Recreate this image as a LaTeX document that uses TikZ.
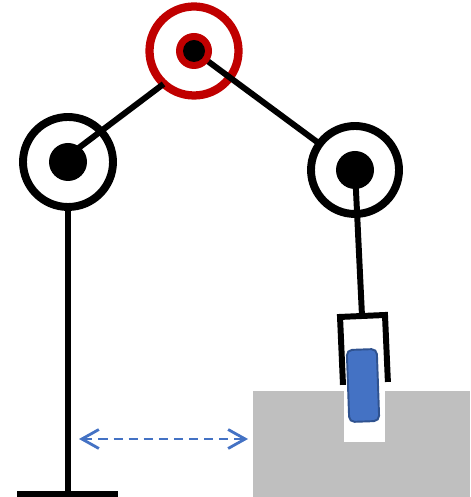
\documentclass[tikz,border=0pt]{standalone}
\usepackage{tikz}
\usetikzlibrary{arrows.meta,positioning}
\definecolor{jointred}{HTML}{C00000}
\definecolor{partblue}{HTML}{4472C4}
\definecolor{partedge}{HTML}{2F528F}
\definecolor{tablegray}{HTML}{BFBFBF}
\tikzset{
    arm/.style={line cap=butt, line join=miter},
    joint/.style={circle, draw, line width=4.5pt, fill=white,
                     minimum size=1.8cm, inner sep=0pt},
    hub/.style={circle, fill=black, minimum size=0.76cm, inner sep=0pt},
    link/.style={line width=3.4pt},
    part/.style={rectangle, rounded corners=3pt, draw=partedge, fill=partblue,
                     line width=1.1pt, minimum width=0.6cm, minimum height=1.44cm,
                     inner sep=0pt, rotate=2},
    reach/.style={partblue, line width=1.6pt, dash pattern=on 5.2pt off 3.4pt,
                     {Straight Barb[length=3.4mm,width=3.8mm]}-{Straight Barb[length=3.4mm,width=3.8mm]}},
    }

\begin{document}
\begin{tikzpicture}[arm]
    \useasboundingbox (0,0) rectangle (9.4,9.94);

    % joint centres
    \coordinate (c1) at (1.36,6.70);
    \coordinate (c2) at (3.88,8.92);
    \coordinate (c3) at (7.10,6.54);
    \coordinate (grip) at (7.24,3.62);
    % upper arm ends
    \coordinate (e0) at (1.36,6.82);
    \coordinate (e1) at (3.27,8.26);

    % table and the slot the gripper reaches into
    \fill[tablegray] (5.06,0) rectangle (9.4,2.12);
    \fill[white] (6.88,1.10) rectangle (7.70,3.50);

    % arm
    \node[joint] (shoulder) at (c1) {};
    \node[joint, draw=jointred, line width=4.7pt, minimum size=1.78cm] (elbow) at (c2) {};
    \draw[link] (e0) -- (e1);
    \draw[link] (c2) -- (c3);
    \node[joint, minimum size=1.76cm] (wrist) at (c3) {};
    \draw[link] (c3) -- (grip);

    \node[hub] (h1) at (c1) {};
    \node[circle, fill=jointred, minimum size=0.72cm, inner sep=0pt] (h2) at (c2) {};
    \node[hub, minimum size=0.44cm] (h2c) at (c2) {};
    \node[hub] (h3) at (c3) {};

    % base
    \coordinate (foot) at (1.36,0.06);
    \draw[link] (shoulder.south) -- (foot);
    \draw[link] (0.34,0.06) -- (2.36,0.06);

    % gripper
    \begin{scope}[shift={(grip)}, rotate=2.5]
        \draw[link] (-0.44,-1.36) -- (-0.44,0) -- (0.46,0) -- (0.46,-1.34);
    \end{scope}
    \node[part] (block) at (7.26,2.23) {};

    % reach
    \coordinate (r1) at (1.58,1.16);
    \coordinate (r2) at (4.96,1.16);
    \draw[reach] (r1) -- (r2);
\end{tikzpicture}
\end{document}
